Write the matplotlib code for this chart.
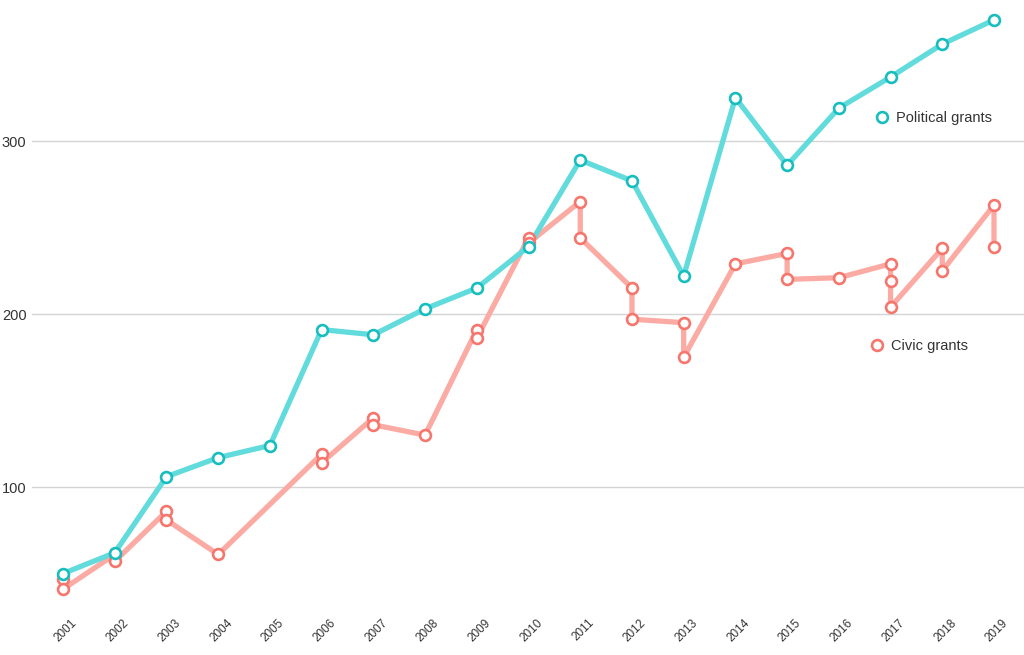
import matplotlib
matplotlib.use("Agg")
import matplotlib.pyplot as plt
import matplotlib.transforms as mtransforms
from matplotlib.lines import Line2D

plt.rcParams["font.family"] = ["Liberation Sans", "DejaVu Sans"]

years = list(range(2001, 2020))
political = [50, 62, 106, 117, 124, 191, 188, 203, 215, 239, 289, 277, 222, 325, 286, 319, 337, 356, 370]

# civic grants: several values in some years, listed in drawing order
civic_years = [2001, 2001, 2002, 2002, 2003, 2003, 2004, 2006, 2006, 2007, 2007, 2008,
               2009, 2009, 2010, 2010, 2011, 2011, 2012, 2012, 2013, 2013, 2014,
               2015, 2015, 2016, 2017, 2017, 2017, 2018, 2018, 2019, 2019]
civic = [47, 41, 61, 57, 86, 81, 61, 119, 114, 140, 136, 130,
         191, 186, 244, 241, 265, 244, 215, 197, 195, 175, 229,
         235, 220, 221, 229, 219, 204, 238, 225, 263, 239]

TEAL_LINE, TEAL_MK = "#62dbdc", "#17bdbf"
RED_LINE, RED_MK = "#fbaba3", "#f6766d"
TEXT = "#333333"

fig = plt.figure(figsize=(10.24, 6.55), dpi=100)
ax = fig.add_axes([32 / 1024, 55 / 655, 992 / 1024, 600 / 655])

ax.plot(civic_years, civic, color=RED_LINE, lw=3.8, solid_capstyle="round", zorder=2)
ax.plot(years, political, color=TEAL_LINE, lw=3.8, solid_capstyle="round", zorder=3)
mk = dict(linestyle="none", marker="o", markersize=7.8, markerfacecolor="white", markeredgewidth=1.9)
ax.plot(civic_years, civic, markeredgecolor=RED_MK, zorder=4, **mk)
ax.plot(years, political, markeredgecolor=TEAL_MK, zorder=5, **mk)

ax.set_xlim(2000.4, 2019.58)
ax.set_ylim(34.7, 381.5)
ax.set_yticks([100, 200, 300])
ax.set_xticks(years)
ax.set_xticklabels([str(y) for y in years], rotation=45, ha="center", fontsize=8.5, color=TEXT)
ax.tick_params(axis="x", length=0, pad=12)
ax.tick_params(axis="y", length=0, pad=4, labelsize=10.5, labelcolor=TEXT)
shift = mtransforms.ScaledTranslation(3 / 100, 0, fig.dpi_scale_trans)
for lab in ax.get_xticklabels():
    lab.set_transform(lab.get_transform() + shift)
ax.grid(axis="y", color="#d4d4d4", lw=1)
ax.set_axisbelow(True)
for s in ax.spines.values():
    s.set_visible(False)

h_pol = Line2D([], [], markeredgecolor=TEAL_MK, **mk)
h_civ = Line2D([], [], markeredgecolor=RED_MK, **mk)
fig.legend([h_pol], ["Political grants"], loc="center left", frameon=False,
           bbox_to_anchor=(867 / 1024, 1 - 118 / 655), handlelength=1.0,
           handletextpad=0.5, borderpad=0, fontsize=10.5, labelcolor=TEXT)
fig.legend([h_civ], ["Civic grants"], loc="center left", frameon=False,
           bbox_to_anchor=(862 / 1024, 1 - 346 / 655), handlelength=1.0,
           handletextpad=0.5, borderpad=0, fontsize=10.5, labelcolor=TEXT)

fig.savefig("out.png", dpi=100)
